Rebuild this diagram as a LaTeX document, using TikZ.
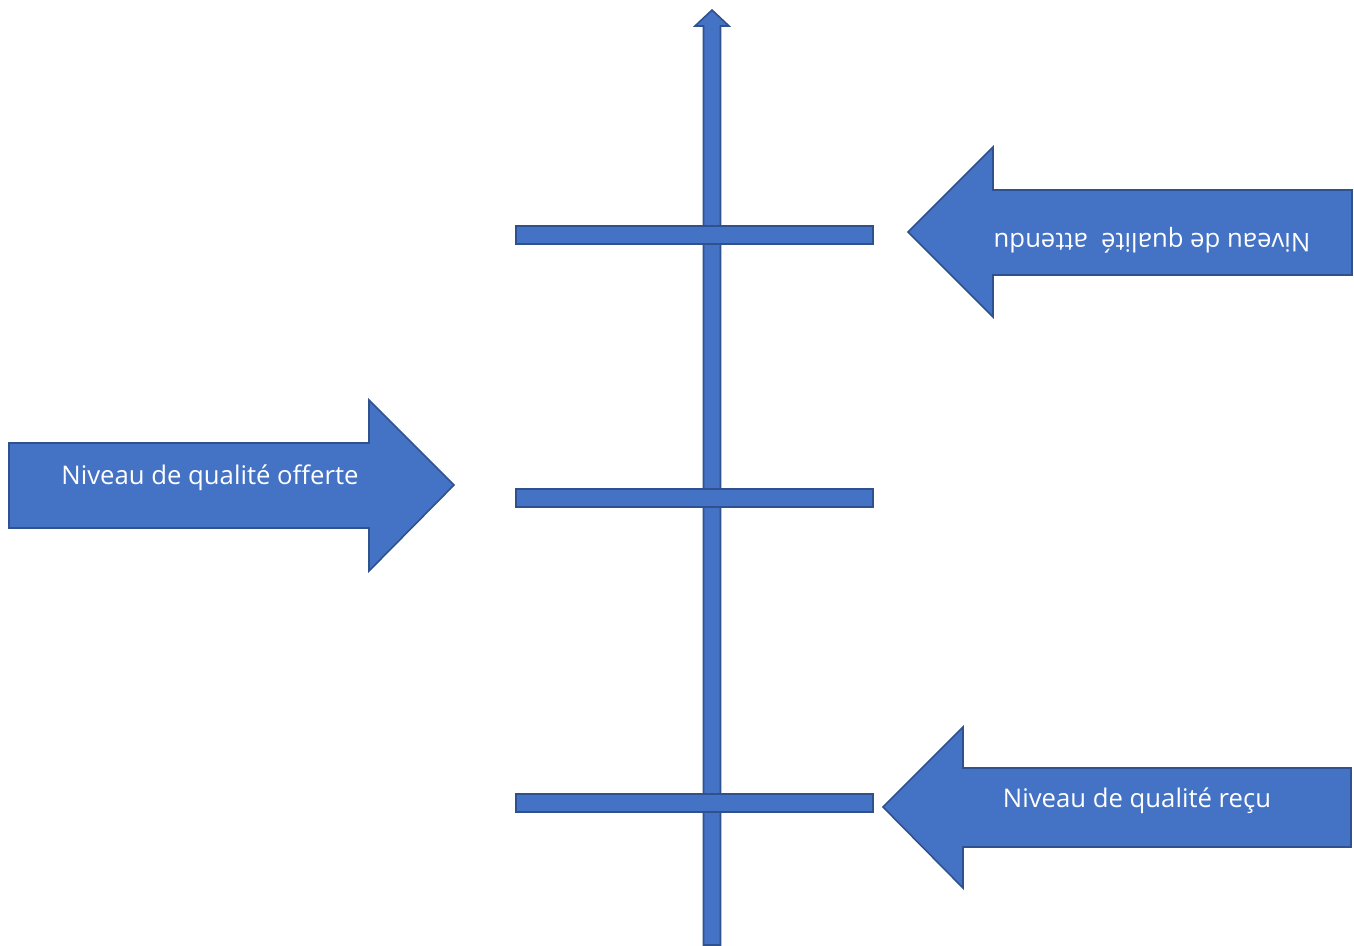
\documentclass[tikz,border=0pt]{standalone}
\usepackage{fontspec}
\setmainfont{Open Sans}
\definecolor{boxfill}{HTML}{4472C4}
\definecolor{boxline}{HTML}{2F528F}
\begin{document}
\begin{tikzpicture}[x=1pt,y=-1pt,
  bluepart/.style={fill=boxfill,draw=boxline,line width=1.6pt,line join=miter},
  lbltext/.style={text=white,font=\fontsize{25.7}{30}\selectfont,inner sep=0pt}]
\useasboundingbox (0,0) rectangle (1354,945);
% vertical axis with arrow head
\draw[bluepart] (703.5,945) -- (703.5,26) -- (695,26) -- (712,10) -- (729,26) -- (720.5,26) -- (720.5,945) -- cycle;
% horizontal bars
\draw[bluepart] (516,226) rectangle (873,244);
\draw[bluepart] (516,489) rectangle (873,507);
\draw[bluepart] (516,794) rectangle (873,812);
% arrow: attendu (left pointing, upper right)
\draw[bluepart] (908,232) -- (993,147) -- (993,190) -- (1352,190) -- (1352,275) -- (993,275) -- (993,317) -- cycle;
% arrow: offerte (right pointing, left)
\draw[bluepart] (454,485) -- (369,400) -- (369,443) -- (9,443) -- (9,528) -- (369,528) -- (369,571) -- cycle;
% arrow: recu (left pointing, lower right)
\draw[bluepart] (883,807) -- (963,727) -- (963,768) -- (1351,768) -- (1351,847) -- (963,847) -- (963,888) -- cycle;
% labels
\node[lbltext,rotate=180] (attendu) at (1152,240) {Niveau de qualité\ \ attendu};
\node[lbltext] (offerte) at (210,478) {Niveau de qualité offerte};
\node[lbltext] (recu) at (1137,801) {Niveau de qualité reçu};
\end{tikzpicture}
\end{document}
